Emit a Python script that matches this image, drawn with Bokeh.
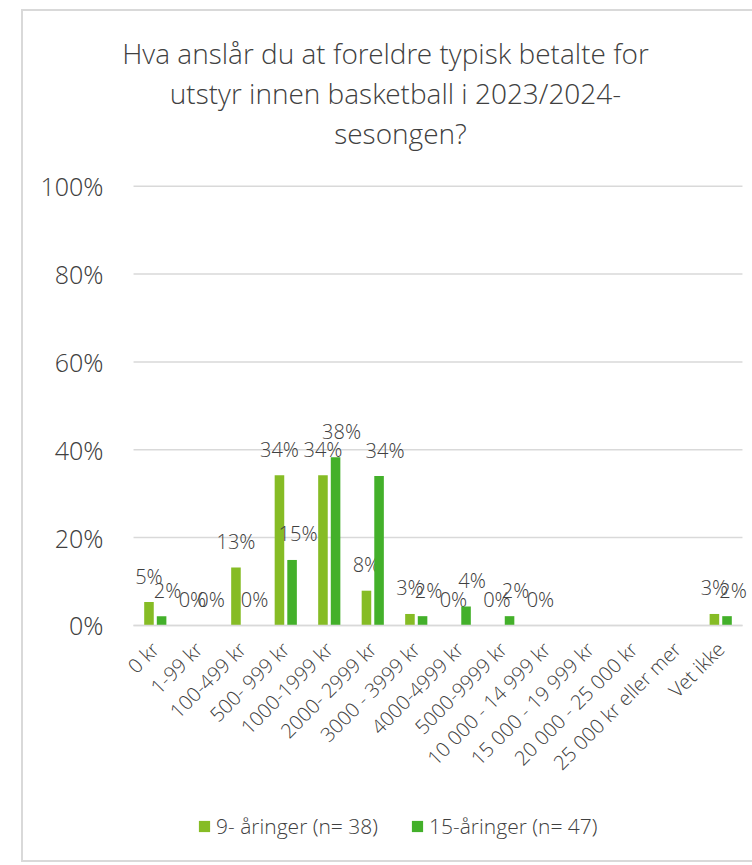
import math
import numpy as np
from bokeh.plotting import figure
from bokeh.models import (ColumnDataSource, FactorRange, Range1d, FixedTicker,
                          Legend, LegendItem)
from bokeh.transform import dodge
from bokeh.core.properties import value
from bokeh.embed import file_html
from bokeh.resources import INLINE

# ---------------- data ----------------
categories = ["0 kr", "1-99 kr", "100-499 kr", "500- 999 kr", "1000-1999 kr",
              "2000- 2999 kr", "3000 - 3999 kr", "4000-4999 kr", "5000-9999 kr",
              "10 000 - 14 999 kr", "15 000 - 19 999 kr", "20 000 - 25 000 kr",
              "25 000 kr eller mer", "Vet ikke"]
series_names = ["9- åringer (n= 38)", "15-åringer (n= 47)"]
age9 = [5.3, 0, 13.2, 34.2, 34.2, 7.9, 2.6, 0, 0, 0, None, None, None, 2.6]
age15 = [2.1, 0, 0, 14.9, 38.3, 34.0, 2.1, 4.3, 2.1, None, None, None, None, 2.1]
yticks = [0, 20, 40, 60, 80, 100]
ytick_labels = ["0%", "20%", "40%", "60%", "80%", "100%"]
title_lines = ["Hva anslår du at foreldre typisk betalte for",
               "utstyr innen basketball i 2023/2024-",
               "sesongen?"]

colors = ["#86BC25", "#43B02A"]
TXT = "#404040"
GRID = "#d9d9d9"
FONT = "Open Sans Light"

# layout (pixels)
px_per_unit = 437 / 100      # 0% -> 100% spans 437 px
above_px = 165               # title area above the 100% line
below_px = 233               # axis labels + legend area below the 0% line
y_top = 100 + above_px / px_per_unit
y_bot = -below_px / px_per_unit
side_pad = 12 / 43.36        # extra frame room left/right of the categories
title_dx = [252, 262, 267]
title_dy = [32, 72, 112]

# ---------------- figure ----------------
p = figure(width=731, height=853,
           x_range=FactorRange(*categories, range_padding=side_pad,
                               range_padding_units="absolute", factor_padding=0),
           y_range=Range1d(y_bot, y_top),
           output_backend="svg", toolbar_location=None,
           min_border_left=98, min_border_right=0,
           min_border_top=9, min_border_bottom=5)
p.margin = (9, 0, 0, 21)
p.styles = {"border-top": "2px solid #d9d9d9", "border-left": "2px solid #d9d9d9",
            "border-bottom": "2px solid #d9d9d9", "box-sizing": "border-box"}
p.outline_line_color = None
p.background_fill_color = "white"
p.border_fill_color = "white"

# horizontal gridlines limited to the category span
ncat = len(categories)
p.segment(x0=[0] * len(yticks), x1=[ncat] * len(yticks), y0=yticks, y1=yticks,
          line_color=GRID, line_width=1.5)

renderers = []
for i, (vals, col) in enumerate(zip([age9, age15], colors)):
    tops = [np.nan if v is None else v for v in vals]
    src = ColumnDataSource(dict(cat=categories, top=tops))
    off = -0.145 if i == 0 else 0.145
    r = p.vbar(x=dodge("cat", off, range=p.x_range), top="top", width=0.22,
               source=src, fill_color=col, line_color=None)
    renderers.append(r)
    # data labels
    lc = [c for c, v in zip(categories, vals) if v is not None]
    lv = [v for v in vals if v is not None]
    lt = [f"{round(v)}%" for v in lv]
    lsrc = ColumnDataSource(dict(cat=lc, y=lv, t=lt))
    p.text(x=dodge("cat", off, range=p.x_range), y="y", text="t", source=lsrc,
           text_font=value(FONT), text_font_size="20px", text_color=TXT,
           text_align="center", text_baseline="alphabetic",
           x_offset=0 if i == 0 else 6, y_offset=-26)

# ---------------- title (inside top of frame) ----------------
tsrc = ColumnDataSource(dict(x=[0] * len(title_lines), y=[y_top] * len(title_lines),
                             t=title_lines, dx=title_dx, dy=title_dy))
p.text(x="x", y="y", text="t", source=tsrc, x_offset="dx", y_offset="dy",
       text_align="center", text_baseline="alphabetic",
       text_font=value(FONT), text_font_size="28px", text_color=TXT)

# ---------------- axes ----------------
p.xgrid.grid_line_color = None
p.ygrid.grid_line_color = None
p.yaxis.ticker = FixedTicker(ticks=yticks)
p.yaxis.major_label_overrides = {t: l for t, l in zip(yticks, ytick_labels)}
p.yaxis.axis_line_color = None
p.yaxis.major_tick_line_color = None
p.yaxis.minor_tick_line_color = None
p.yaxis.major_tick_out = 0
p.yaxis.major_tick_in = 0
p.yaxis.major_label_standoff = 18
p.yaxis.major_label_text_font = FONT
p.yaxis.major_label_text_font_size = "25px"
p.yaxis.major_label_text_color = TXT

p.xaxis.fixed_location = 0
p.xaxis.bounds = (0, ncat)
p.xaxis.axis_line_color = GRID
p.xaxis.axis_line_width = 1.5
p.xaxis.major_tick_line_color = None
p.xaxis.minor_tick_line_color = None
p.xaxis.major_tick_out = 0
p.xaxis.major_tick_in = 0
p.xaxis.major_label_orientation = math.pi / 4
p.xaxis.major_label_standoff = 20
p.xaxis.major_label_text_font = FONT
p.xaxis.major_label_text_font_size = "20px"
p.xaxis.major_label_text_color = TXT

# ---------------- legend ----------------
legend = Legend(items=[LegendItem(label=n, renderers=[r]) for n, r in zip(series_names, renderers)],
                orientation="horizontal", location=(76, 19),
                glyph_width=14, glyph_height=14, label_standoff=5, spacing=32,
                padding=0, margin=0, border_line_color=None, background_fill_alpha=0,
                label_text_font=FONT, label_text_font_size="21px", label_text_color=TXT)
p.add_layout(legend)

open("out.html", "w").write(file_html(p, INLINE))
